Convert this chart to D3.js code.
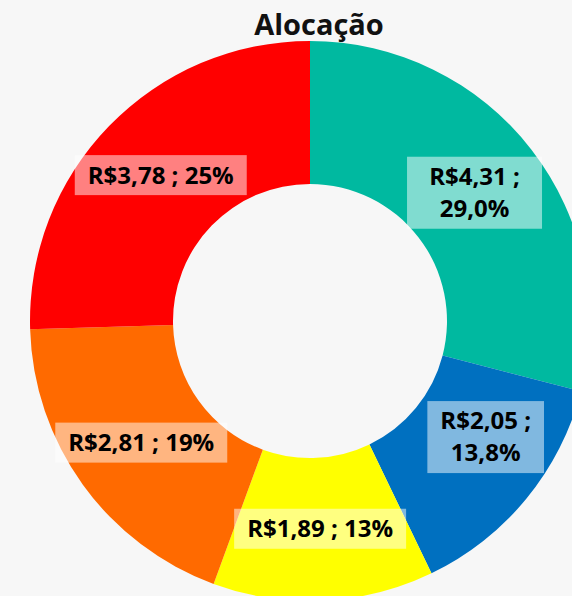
<!DOCTYPE html>
<html>
<head>
<meta charset="utf-8">
<script src="https://cdn.jsdelivr.net/npm/d3@7"></script>
<style>
  body { margin: 0; background: #f7f7f7; }
  svg { display: block; font-family: "Open Sans", sans-serif; }
</style>
</head>
<body>
<svg width="572" height="596"></svg>
<script>
// data
const categories = ["A", "B", "C", "D", "E"];
const values = [4.31, 2.05, 1.89, 2.81, 3.78];
const labelLines = [
  ["R$4,31 ;", "29,0%"],
  ["R$2,05 ;", "13,8%"],
  ["R$1,89 ; 13%"],
  ["R$2,81 ; 19%"],
  ["R$3,78 ; 25%"]
];
const colors = ["#00b9a0", "#0070c0", "#ffff00", "#ff6a00", "#ff0000"];
const title = "Alocação";

const width = 572, height = 596;
const cx = 310, cy = 321;
const outerR = 280, innerR = 137, labelR = 208;

// nudges / fixed widths for the wrapped labels
const nudge = [[0, -1], [15, -16], [0, 0], [0, 0], [0, -1]];
const minBoxW = [135, 114, 0, 0, 0];

const svg = d3.select("svg");

svg.append("text")
  .attr("x", 319)
  .attr("y", 35)
  .attr("text-anchor", "middle")
  .attr("font-size", "29px")
  .attr("font-weight", "bold")
  .attr("fill", "#111")
  .text(title);

const g = svg.append("g").attr("transform", `translate(${cx}, ${cy})`);

const pie = d3.pie().sort(null).value(d => d);
const arcs = pie(values);

const arc = d3.arc().innerRadius(innerR).outerRadius(outerR);
const labelArc = d3.arc().innerRadius(labelR).outerRadius(labelR);

g.selectAll("path.slice")
  .data(arcs)
  .enter().append("path")
  .attr("class", "slice")
  .attr("d", arc)
  .attr("fill", (d, i) => colors[i]);

const lineH = 32;
const labels = g.selectAll("g.lbl")
  .data(arcs)
  .enter().append("g")
  .attr("class", "lbl")
  .attr("transform", (d, i) => {
    const c = labelArc.centroid(d);
    return `translate(${c[0] + nudge[i][0]}, ${c[1] + nudge[i][1]})`;
  });

labels.each(function(d, i) {
  const lg = d3.select(this);
  const lines = labelLines[i];
  const rect = lg.append("rect").attr("fill", "#fff").attr("fill-opacity", 0.5);
  const txt = lg.append("text")
    .attr("text-anchor", "middle")
    .attr("font-size", "24px")
    .attr("font-weight", "bold")
    .attr("fill", "#000");
  const y0 = -(lines.length - 1) * lineH / 2;
  lines.forEach((l, j) => {
    txt.append("tspan")
      .attr("x", 0)
      .attr("y", y0 + j * lineH)
      .attr("dy", "0.35em")
      .text(l);
  });
  const bb = txt.node().getBBox();
  const w = Math.max(bb.width + 26, minBoxW[i]);
  const h = lines.length * lineH + 8;
  rect.attr("x", -w / 2).attr("y", -h / 2).attr("width", w).attr("height", h);
});
</script>
</body>
</html>
